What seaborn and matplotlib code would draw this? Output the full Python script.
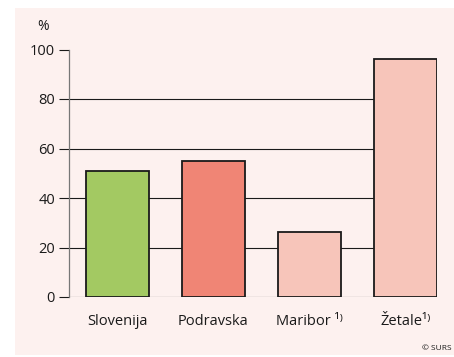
import matplotlib
matplotlib.use("Agg")
import matplotlib.pyplot as plt
from matplotlib.patches import Rectangle
import seaborn as sns
import pandas as pd

regions = ["Slovenija", "Podravska", "Maribor ¹⁾", "Žetale¹⁾"]
shares = [51.0, 55.0, 26.4, 96.3]
bar_colors = ["#a3c962", "#f08575", "#f7c5ba", "#f7c5ba"]
y_ticks = [0, 20, 40, 60, 80, 100]

df = pd.DataFrame({"region": regions, "share": shares})

sns.set_style("white")
plt.rcParams["font.family"] = ["Open Sans", "DejaVu Sans"]

fig = plt.figure(figsize=(4.54, 3.57), dpi=100, facecolor="white")
# pale panel behind the chart
fig.patches.append(Rectangle((15 / 454, 1 - 355 / 357), 439 / 454, 347 / 357,
                             transform=fig.transFigure, facecolor="#fdf1ef",
                             edgecolor="none", zorder=-10))

ax = fig.add_axes([69 / 454, 1 - 297 / 357, 368 / 454, 247.5 / 357])
ax.set_facecolor("none")
ax.set_zorder(1)

sns.barplot(data=df, x="region", y="share", hue="region", palette=bar_colors,
            saturation=1, legend=False, width=0.656, edgecolor="#1a1a1a",
            linewidth=1.3, ax=ax, zorder=3)

ax.set_ylim(0, 100)
ax.set_xlim(-0.5, 3.33)
ax.set_yticks(y_ticks)
ax.set_yticklabels([str(t) for t in y_ticks], fontsize=10.5, color="#1a1a1a")
ax.tick_params(axis="y", length=7, width=0.8, color="#1a1a1a", pad=3, left=True)
ax.tick_params(axis="x", length=0, pad=12, labelsize=10.5, labelcolor="#1a1a1a")
ax.set_xlabel("")
ax.set_ylabel("")

ax.yaxis.grid(True, color="#1a1a1a", linewidth=0.8, zorder=1)
ax.set_axisbelow(True)
ax.get_ygridlines()[-1].set_visible(False)

for side in ["top", "right", "bottom"]:
    ax.spines[side].set_visible(False)
ax.spines["left"].set_color("#777777")
ax.spines["left"].set_linewidth(0.9)

fig.text(43 / 454, 1 - 27 / 357, "%", fontsize=10, ha="center", va="center",
         color="#1a1a1a")
fig.text(452 / 454, 1 - 348 / 357, "© SURS", fontsize=6, ha="right",
         va="center", color="#1a1a1a")

fig.savefig("out.png", dpi=100, facecolor="white")
